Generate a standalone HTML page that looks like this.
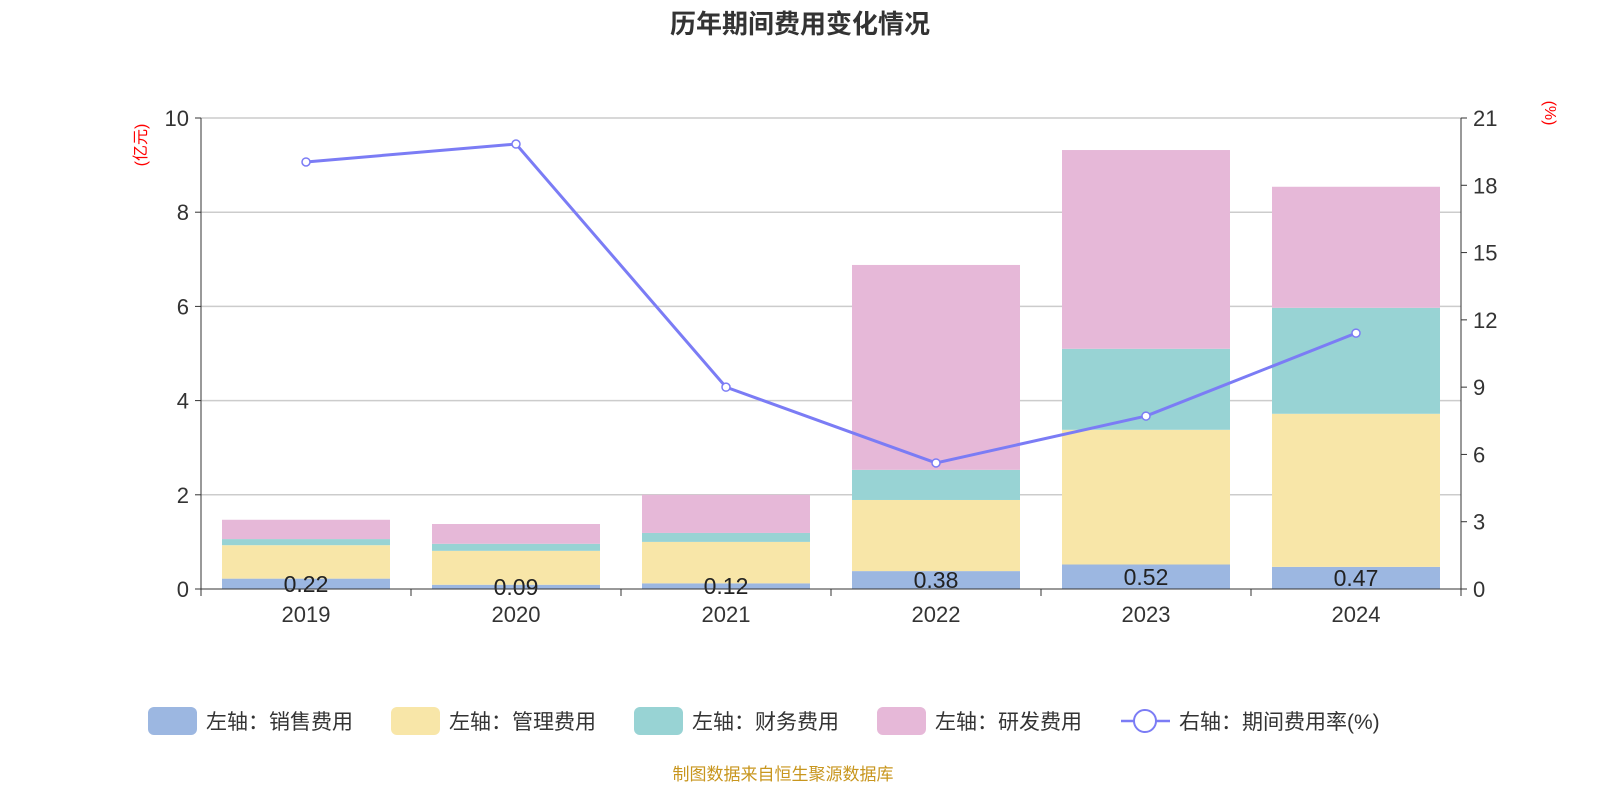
<!DOCTYPE html>
<html><head><meta charset="utf-8"><style>
body{margin:0;background:#fff;width:1600px;height:800px;overflow:hidden;font-family:"Liberation Sans","Noto Sans CJK SC",sans-serif}
</style></head><body>
<svg id="c" width="1600" height="800" xmlns="http://www.w3.org/2000/svg">
<text x="800" y="33" text-anchor="middle" font-size="26" font-weight="bold" fill="#333" font-family="Liberation Sans, Noto Sans CJK SC, sans-serif">历年期间费用变化情况</text>
<text transform="translate(146,145) rotate(-90)" text-anchor="middle" font-size="16" fill="#f00" font-family="Liberation Sans, Noto Sans CJK SC, sans-serif">(亿元)</text>
<text transform="translate(1545,113) rotate(90)" text-anchor="middle" font-size="16" fill="#f00">(%)</text>
<g id="grid"></g><g id="bars"></g><g id="line"></g><g id="axes"></g>
<g id="legend" font-size="21" fill="#333" font-family="Liberation Sans, Noto Sans CJK SC, sans-serif"></g>
<text x="783" y="780" text-anchor="middle" font-size="17" fill="#c8961e" font-family="Liberation Sans, Noto Sans CJK SC, sans-serif">制图数据来自恒生聚源数据库</text>
</svg>
<script>
const years=["2019","2020","2021","2022","2023","2024"];
const sales=[0.22,0.09,0.12,0.38,0.52,0.47];
const mgmt=[0.71,0.72,0.88,1.51,2.86,3.25];
const fin=[0.13,0.15,0.19,0.64,1.72,2.25];
const rd=[0.41,0.42,0.81,4.35,4.22,2.57];
const rate=[19.04,19.84,9.0,5.62,7.71,11.41];
const leftTicks=[0,2,4,6,8,10];
const rightTicks=[0,3,6,9,12,15,18,21];
const NS="http://www.w3.org/2000/svg";
const X0=201,X1=1461,Y0=589,Y1=118;
const band=(X1-X0)/years.length;
const yL=v=>Y0-(v/10)*(Y0-Y1);
const yR=v=>Y0-(v/21)*(Y0-Y1);
const xC=i=>X0+band*(i+0.5);
function mk(tag,attrs,parent){const e=document.createElementNS(NS,tag);for(const k in attrs)e.setAttribute(k,attrs[k]);document.getElementById(parent).appendChild(e);return e;}
const F="Liberation Sans, Noto Sans CJK SC, sans-serif";
leftTicks.forEach(t=>{
 const y=yL(t);
 if(t>0){const g=mk('line',{x1:X0,x2:X1,y1:y,y2:y,stroke:'#ccc','stroke-width':1.5},'grid');
 
 }
 mk('line',{x1:X0-6,x2:X0,y1:y,y2:y,stroke:'#333'},'axes');
 const tx=mk('text',{x:X0-12,y:y+8,'text-anchor':'end','font-size':22,fill:'#333','font-family':F},'axes');tx.textContent=t;
 
 
});
rightTicks.forEach(t=>{
 const y=yR(t);
 mk('line',{x1:X1,x2:X1+6,y1:y,y2:y,stroke:'#333'},'axes');
 const tx=mk('text',{x:X1+12,y:y+8,'font-size':22,fill:'#333','font-family':F},'axes');tx.textContent=t;
 
 
});
mk('line',{x1:X0,x2:X0,y1:Y1,y2:Y0,stroke:'#333'},'axes');
mk('line',{x1:X1,x2:X1,y1:Y1,y2:Y0,stroke:'#333'},'axes');
mk('line',{x1:X0,x2:X1,y1:Y0,y2:Y0,stroke:'#333'},'axes');
for(let i=0;i<=years.length;i++)mk('line',{x1:X0+band*i,x2:X0+band*i,y1:Y0,y2:Y0+7,stroke:'#333'},'axes');
const series=[sales,mgmt,fin,rd];const cols=['#9cb7e1','#f8e6a8','#98d3d4','#e6b8d8'];const names=['sales','mgmt','finance','rd'];
years.forEach((yr,i)=>{
 let base=0;const bw=band*0.8;
 series.forEach((s,k)=>{
  const r=mk('rect',{x:xC(i)-bw/2,y:yL(base+s[i]),width:bw,height:yL(base)-yL(base+s[i]),fill:cols[k]},'bars');
  
  
  base+=s[i];
 });
 const lb=mk('text',{x:xC(i),y:(yL(0)+yL(sales[i]))/2+8,'text-anchor':'middle','font-size':23,fill:'#222','font-family':F},'bars');lb.textContent=sales[i].toFixed(2);
 
 
 const xt=mk('text',{x:xC(i),y:622,'text-anchor':'middle','font-size':22,fill:'#333','font-family':F},'axes');xt.textContent=yr;
 
 
});
const pl=mk('polyline',{points:rate.map((v,i)=>xC(i)+','+yR(v)).join(' '),fill:'none',stroke:'#7b7cf5','stroke-width':3},'line');


rate.forEach((v,i)=>{const c=mk('circle',{cx:xC(i),cy:yR(v),r:4,fill:'#fff',stroke:'#7b7cf5','stroke-width':1.5},'line');
 
 });
const leg=[['左轴：销售费用',148],['左轴：管理费用',391],['左轴：财务费用',634],['左轴：研发费用',877]];
leg.forEach((l,k)=>{
 const r=mk('rect',{x:l[1],y:707,width:49,height:28,rx:6,fill:cols[k]},'legend');
 
 
 const t=mk('text',{x:l[1]+58,y:729},'legend');t.textContent=l[0];
 
 
});
mk('line',{x1:1121,x2:1170,y1:721,y2:721,stroke:'#7b7cf5','stroke-width':2.5},'legend');
mk('circle',{cx:1145,cy:721,r:11,fill:'#fff',stroke:'#7b7cf5','stroke-width':2},'legend');
const lt=mk('text',{x:1179,y:729},'legend');lt.textContent='右轴：期间费用率(%)';


</script>
</body></html>
